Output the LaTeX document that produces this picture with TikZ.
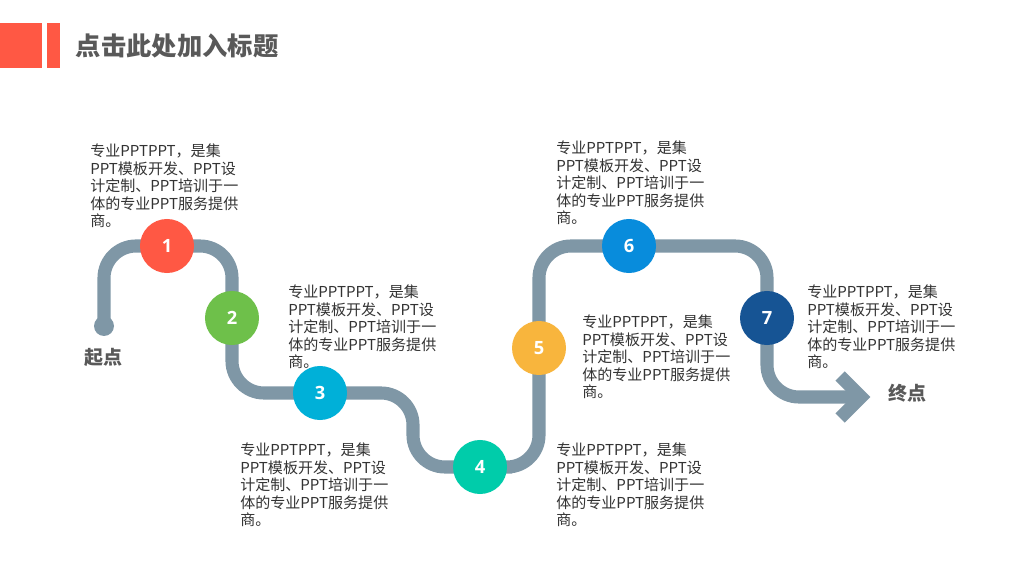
\documentclass[tikz,border=0pt]{standalone}
\usepackage{fontspec}
\setmainfont{Noto Sans CJK SC}
\newfontfamily\numfont{Open Sans}
\usetikzlibrary{positioning,calc}
\definecolor{ttred}{RGB}{255,88,68}
\definecolor{ttgray}{RGB}{89,89,89}
\definecolor{txtgray}{RGB}{51,51,51}
\definecolor{roadgray}{RGB}{127,151,166}
\definecolor{stepa}{RGB}{255,88,68}
\definecolor{stepb}{RGB}{110,192,74}
\definecolor{stepc}{RGB}{0,176,216}
\definecolor{stepd}{RGB}{0,204,170}
\definecolor{stepe}{RGB}{248,181,61}
\definecolor{stepf}{RGB}{8,140,220}
\definecolor{stepg}{RGB}{22,84,148}
\newcommand\blurb{专业PPTPPT，是集\\PPT模板开发、PPT设\\计定制、PPT培训于一\\体的专业PPT服务提供\\商。}
\tikzset{
  dot/.style={circle, fill=#1, minimum size=1.35cm, inner sep=0pt, text=white, font=\numfont\bfseries\fontsize{13}{13}\selectfont},
  desc/.style={anchor=north west, align=left, inner sep=0pt, text=txtgray, font=\fontsize{10.7}{12.4}\selectfont},
  road/.style={line width=9.3pt, roadgray, rounded corners=0.8cm},
  tag/.style={text=ttgray, font=\bfseries\fontsize{13.5}{13.5}\selectfont}
}

\begin{document}
\begin{tikzpicture}[x=0.025cm, y=-0.025cm]
    \useasboundingbox (0,0) rectangle (1024,576);
    \fill[white] (0,0) rectangle (1024,576);
    % title bar
    \fill[ttred] (0,23) rectangle (42,68);
    \fill[ttred] (47,23) rectangle (60,68);
    \node[anchor=west, text=ttgray, font=\bfseries\fontsize{18}{18}\selectfont] (title) at (71,46) {点击此处加入标题};
    % road
    \coordinate (start) at (104,326);
    \coordinate (p1) at (167,246);
    \coordinate (p2) at (232,318);
    \coordinate (p3) at (320,393);
    \coordinate (bend) at (413,467);
    \coordinate (p4) at (480,467);
    \coordinate (p5) at (539,348);
    \coordinate (p6) at (629,246);
    \coordinate (p7) at (767,318);
    \coordinate (end) at (861,397);
    \draw[road] (start) |- (p1) -| (p2) |- (p3) -| (bend) -- (p4) -| (p5) |- (p6) -| (p7) |- (end);
    \draw[road, rounded corners=0pt, line join=miter] ($(end)+(-21,-21)$) -- (end) -- ($(end)+(-21,21)$);
    \fill[roadgray] (start) circle (10);
    \node[tag] (startlbl) at (103,357) {起点};
    \node[tag] (endlbl) at (907,393) {终点};
    % steps
    \node[dot=stepa] (s1) at (p1) {1};
    \node[dot=stepb] (s2) at (p2) {2};
    \node[dot=stepc] (s3) at (p3) {3};
    \node[dot=stepd] (s4) at (p4) {4};
    \node[dot=stepe] (s5) at (p5) {5};
    \node[dot=stepf] (s6) at (p6) {6};
    \node[dot=stepg] (s7) at (p7) {7};
    % texts
    \node[desc] (t1) at (90,144) {\blurb};
    \node[desc] (t2) at (288,285) {\blurb};
    \node[desc] (t3) at (240,443) {\blurb};
    \node[desc] (t4) at (556,443) {\blurb};
    \node[desc] (t5) at (582,315) {\blurb};
    \node[desc] (t6) at (556,141) {\blurb};
    \node[desc] (t7) at (807,285) {\blurb};
\end{tikzpicture}
\end{document}
